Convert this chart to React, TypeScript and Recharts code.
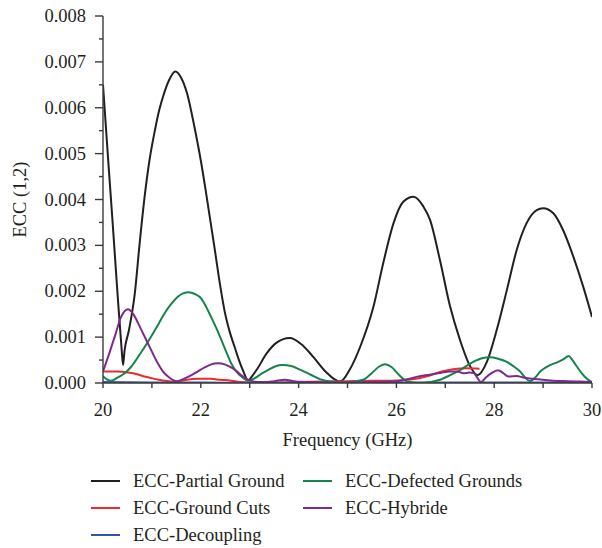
import React from 'react';
import { LineChart, Line, XAxis, YAxis, Legend } from 'recharts';

const FONT = "'Liberation Serif', 'DejaVu Serif', serif";
const AXIS_COLOR = '#3a3a3a';
const TEXT_COLOR = '#231f20';
const FONT_SIZE = 18.5;
const CHART_W = 602;
const CHART_H = 548;

// Axis ticks
const freqTicks = [20, 21, 22, 23, 24, 25, 26, 27, 28, 29, 30];
const eccTicks = [0, 0.0005, 0.001, 0.0015, 0.002, 0.0025, 0.003, 0.0035, 0.004, 0.0045, 0.005, 0.0055, 0.006, 0.0065, 0.007, 0.0075, 0.008];

// ECC values below are in units of 1e-3
const partialGroundFreq = [20.0, 20.1, 20.2, 20.3, 20.38, 20.41, 20.44, 20.53, 20.65, 20.75, 20.85, 20.95, 21.06, 21.15, 21.23, 21.35, 21.48, 21.6, 21.72, 21.87, 22.0, 22.11, 22.28, 22.4, 22.49, 22.59, 22.69, 22.78, 22.86, 22.97, 23.05, 23.15, 23.35, 23.55, 23.82, 24.05, 24.3, 24.55, 24.85, 25.05, 25.26, 25.53, 25.73, 25.94, 26.14, 26.35, 26.55, 26.69, 26.89, 27.1, 27.3, 27.51, 27.66, 27.85, 28.05, 28.26, 28.46, 28.66, 28.87, 29.0, 29.21, 29.41, 29.62, 29.82, 30.0];
const partialGroundEcc = [6.5, 4.95, 3.45, 1.9, 0.75, 0.39, 0.7, 1.15, 1.95, 3.05, 4.05, 4.85, 5.5, 5.95, 6.25, 6.6, 6.79, 6.65, 6.31, 5.58, 4.85, 4.13, 2.95, 2.1, 1.55, 1.12, 0.79, 0.5, 0.28, 0.06, 0.15, 0.3, 0.65, 0.88, 0.98, 0.85, 0.57, 0.25, 0.03, 0.3, 0.79, 1.66, 2.61, 3.48, 3.95, 4.06, 3.85, 3.55, 2.68, 1.66, 0.94, 0.36, 0.17, 0.46, 1.15, 2.03, 2.9, 3.48, 3.77, 3.81, 3.7, 3.33, 2.75, 2.1, 1.44];

const groundCutsFreq = [20.0, 20.3, 20.51, 20.7, 20.85, 21.05, 21.26, 21.5, 21.72, 21.94, 22.2, 22.4, 22.62, 22.8, 23.0, 23.5, 24.0, 24.5, 25.0, 25.5, 25.9, 26.2, 26.48, 26.7, 26.89, 27.16, 27.44, 27.7];
const groundCutsEcc = [0.25, 0.25, 0.23, 0.19, 0.14, 0.09, 0.05, 0.03, 0.07, 0.09, 0.09, 0.07, 0.05, 0.02, 0.01, 0.01, 0.02, 0.03, 0.04, 0.05, 0.05, 0.07, 0.11, 0.17, 0.24, 0.3, 0.32, 0.31];

const decouplingFreq = [20, 21, 22, 23, 24, 25, 26, 27, 28, 29, 30];
const decouplingEcc = [0.02, 0.01, 0.01, 0.005, 0.01, 0.01, 0.01, 0.01, 0.01, 0.01, 0.01];

const defectedFreq = [20.0, 20.08, 20.17, 20.3, 20.45, 20.58, 20.75, 20.92, 21.1, 21.26, 21.4, 21.53, 21.65, 21.75, 21.88, 22.01, 22.11, 22.21, 22.32, 22.42, 22.52, 22.62, 22.72, 22.83, 22.97, 23.1, 23.22, 23.37, 23.52, 23.67, 23.85, 24.05, 24.25, 24.45, 24.71, 25.0, 25.32, 25.5, 25.65, 25.77, 25.9, 26.05, 26.21, 26.45, 26.7, 26.89, 27.1, 27.3, 27.57, 27.75, 27.91, 28.08, 28.26, 28.4, 28.53, 28.63, 28.73, 28.84, 28.94, 29.04, 29.14, 29.31, 29.42, 29.52, 29.6, 29.69, 29.8, 29.89, 30.0];
const defectedEcc = [0.15, 0.08, 0.05, 0.12, 0.22, 0.36, 0.62, 0.9, 1.22, 1.52, 1.73, 1.88, 1.96, 1.98, 1.94, 1.84, 1.66, 1.44, 1.19, 0.94, 0.68, 0.43, 0.26, 0.14, 0.05, 0.1, 0.19, 0.28, 0.36, 0.39, 0.37, 0.28, 0.18, 0.08, 0.03, 0.02, 0.07, 0.22, 0.36, 0.41, 0.35, 0.18, 0.04, 0.0, 0.02, 0.07, 0.17, 0.28, 0.46, 0.54, 0.56, 0.53, 0.46, 0.36, 0.25, 0.12, 0.04, 0.12, 0.25, 0.33, 0.39, 0.46, 0.52, 0.59, 0.5, 0.36, 0.2, 0.1, 0.02];

const hybrideFreq = [20.0, 20.12, 20.24, 20.37, 20.51, 20.62, 20.72, 20.82, 20.92, 21.02, 21.12, 21.22, 21.33, 21.5, 21.65, 21.81, 21.95, 22.08, 22.2, 22.35, 22.5, 22.62, 22.73, 22.83, 22.95, 23.1, 23.3, 23.5, 23.72, 23.9, 24.2, 24.6, 25.0, 25.5, 26.0, 26.25, 26.48, 26.69, 26.89, 27.1, 27.25, 27.37, 27.5, 27.58, 27.65, 27.73, 27.83, 27.95, 28.08, 28.18, 28.29, 28.46, 28.6, 28.73, 29.0, 29.21, 29.5, 29.75, 30.0];
const hybrideEcc = [0.25, 0.62, 1.01, 1.44, 1.61, 1.5, 1.3, 1.08, 0.86, 0.64, 0.43, 0.26, 0.14, 0.04, 0.09, 0.17, 0.26, 0.34, 0.4, 0.43, 0.4, 0.34, 0.26, 0.17, 0.08, 0.03, 0.02, 0.04, 0.07, 0.04, 0.02, 0.01, 0.01, 0.02, 0.04, 0.09, 0.15, 0.18, 0.22, 0.25, 0.25, 0.21, 0.23, 0.22, 0.12, 0.02, 0.12, 0.22, 0.28, 0.22, 0.14, 0.15, 0.12, 0.1, 0.07, 0.05, 0.04, 0.03, 0.02];

const toPoints = (freq: number[], ecc: number[]) =>
  freq.map((f, i) => ({ freq: f, ecc: ecc[i] * 1e-3 }));

// Drawing order: first entry is painted first
const series = [
  { name: 'ECC-Partial Ground', color: '#231f20', data: toPoints(partialGroundFreq, partialGroundEcc) },
  { name: 'ECC-Ground Cuts', color: '#ee2a2e', data: toPoints(groundCutsFreq, groundCutsEcc) },
  { name: 'ECC-Decoupling', color: '#3454a8', data: toPoints(decouplingFreq, decouplingEcc) },
  { name: 'ECC-Defected Grounds', color: '#17834c', data: toPoints(defectedFreq, defectedEcc) },
  { name: 'ECC-Hybride', color: '#7c2b8c', data: toPoints(hybrideFreq, hybrideEcc) },
];

// Legend grid: [column, row]
const legendSlots: Record<string, [number, number]> = {
  'ECC-Partial Ground': [0, 0],
  'ECC-Defected Grounds': [1, 0],
  'ECC-Ground Cuts': [0, 1],
  'ECC-Hybride': [1, 1],
  'ECC-Decoupling': [0, 2],
};
const legendColumnX = [91, 303];
const legendRowY = [0, 27, 54];

const FreqTick = (props: any) => {
  const { x, y, payload } = props;
  const v = payload.value as number;
  return (
    <g>
      <line x1={x} y1={y} x2={x} y2={y + 5} stroke={AXIS_COLOR} strokeWidth={1.4} />
      {v % 2 === 0 && (
        <text x={x} y={y + 33} textAnchor="middle" fontFamily={FONT} fontSize={FONT_SIZE} fill={TEXT_COLOR}>
          {v}
        </text>
      )}
    </g>
  );
};

const EccTick = (props: any) => {
  const { x, y, payload } = props;
  const v = payload.value as number;
  const major = Math.round(v * 10000) % 10 === 0;
  return (
    <g>
      <line x1={x} y1={y} x2={x - (major ? 8 : 4)} y2={y} stroke={AXIS_COLOR} strokeWidth={1.4} />
      {major && (
        <text x={x - 17} y={y + 6} textAnchor="end" fontFamily={FONT} fontSize={FONT_SIZE} fill={TEXT_COLOR}>
          {v.toFixed(3)}
        </text>
      )}
    </g>
  );
};

const renderLegend = (props: any) => {
  const payload: any[] = props.payload || [];
  return (
    <div style={{ position: 'relative', width: CHART_W, height: 80, fontFamily: FONT, fontSize: FONT_SIZE, color: TEXT_COLOR }}>
      {payload.map((entry) => {
        const slot = legendSlots[entry.value];
        if (!slot) return null;
        return (
          <div
            key={entry.value}
            style={{
              position: 'absolute',
              left: legendColumnX[slot[0]],
              top: legendRowY[slot[1]],
              height: 26,
              display: 'flex',
              alignItems: 'center',
              whiteSpace: 'nowrap',
            }}
          >
            <svg width={29} height={4} style={{ display: 'block' }}>
              <line x1={0} y1={2} x2={29} y2={2} stroke={entry.color} strokeWidth={2} />
            </svg>
            <span style={{ marginLeft: 13 }}>{entry.value}</span>
          </div>
        );
      })}
    </div>
  );
};

export default function App() {
  return (
    <div style={{ width: CHART_W, height: CHART_H, fontFamily: FONT }}>
      <style>{'html, body { margin: 0; padding: 0; overflow: hidden; }'}</style>
      <LineChart width={CHART_W} height={CHART_H} margin={{ top: 16, right: 10, left: 0, bottom: 95 }}>
        <XAxis
          dataKey="freq"
          type="number"
          domain={[20, 30]}
          ticks={freqTicks}
          interval={0}
          height={70}
          tickSize={0}
          tickMargin={0}
          tickLine={false}
          tick={<FreqTick />}
          axisLine={{ stroke: AXIS_COLOR, strokeWidth: 1.4 }}
          allowDataOverflow
          label={{
            content: (p: any) => {
              const vb = p.viewBox;
              return (
                <text x={vb.x + vb.width / 2} y={vb.y + 63} textAnchor="middle" fontFamily={FONT} fontSize={FONT_SIZE} fill={TEXT_COLOR}>
                  Frequency (GHz)
                </text>
              );
            },
          }}
        />
        <XAxis xAxisId="top" orientation="top" type="number" domain={[20, 30]} height={0} tick={false} tickLine={false} axisLine={{ stroke: AXIS_COLOR, strokeWidth: 1.4 }} />
        <YAxis
          type="number"
          domain={[0, 0.008]}
          ticks={eccTicks}
          interval={0}
          width={103}
          tickSize={0}
          tickMargin={0}
          tickLine={false}
          tick={<EccTick />}
          axisLine={{ stroke: AXIS_COLOR, strokeWidth: 1.4 }}
          allowDataOverflow
          label={{
            content: (p: any) => {
              const vb = p.viewBox;
              const cx = 20;
              const cy = vb.y + vb.height / 2;
              return (
                <text x={cx} y={cy} transform={`rotate(-90, ${cx}, ${cy})`} textAnchor="middle" dominantBaseline="central" fontFamily={FONT} fontSize={FONT_SIZE} fill={TEXT_COLOR}>
                  ECC (1,2)
                </text>
              );
            },
          }}
        />
        <YAxis yAxisId="right" orientation="right" type="number" domain={[0, 0.008]} width={0} tick={false} tickLine={false} axisLine={{ stroke: AXIS_COLOR, strokeWidth: 1.4 }} />
        {series.map((s) => (
          <Line
            key={s.name}
            name={s.name}
            data={s.data}
            dataKey="ecc"
            type="monotone"
            stroke={s.color}
            strokeWidth={2}
            dot={false}
            activeDot={false}
            isAnimationActive={false}
          />
        ))}
        <Legend
          layout="horizontal"
          verticalAlign="middle"
          align="center"
          wrapperStyle={{ top: 468, left: 0, width: CHART_W, height: 80 }}
          content={renderLegend}
        />
      </LineChart>
    </div>
  );
}
